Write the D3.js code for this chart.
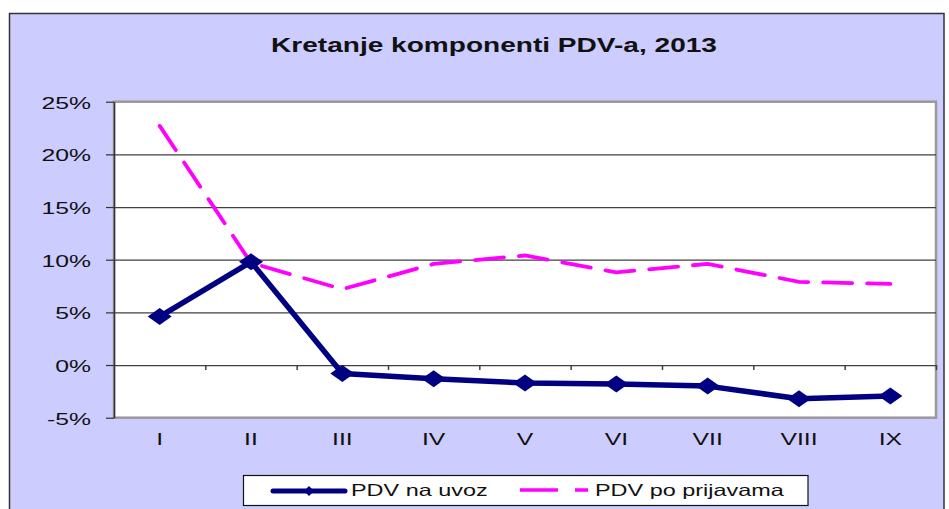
<!DOCTYPE html>
<html>
    <head>
        <meta charset="UTF-8">
        <title>Kretanje komponenti PDV-a, 2013</title>
        <script src="https://d3js.org/d3.v7.min.js"></script>
        <style>
            body {
                margin:0;
                padding:0;
                background: #ffffff;
            }
            text {
                font-family: "Liberation Sans", Arial, sans-serif;
                fill: #111111;
            }
        </style>
    </head>
    <body>
        <div id="chart"></div>
        <script>
            // data (percent)
            var months = ["I", "II", "III", "IV", "V", "VI", "VII", "VIII", "IX"];
            var pdvUvoz = [4.6, 9.8, -0.8, -1.3, -1.7, -1.8, -2.0, -3.2, -2.95];
            var pdvPrijave = [22.7, 9.7, 7.2, 9.6, 10.4, 8.8, 9.6, 7.9, 7.7];
            var yTicks = [-5, 0, 5, 10, 15, 20, 25];
            var gridTicks = [0, 5, 10, 15, 20];
            var seriesNames = ["PDV na uvoz", "PDV po prijavama"];

            var svgWidth = 949;
            var svgHeight = 509;
            var plot = { left: 114, right: 936, top: 101.7, bottom: 417.7 };

            var svg = d3.select('#chart').append('svg')
                .attr('width', svgWidth)
                .attr('height', svgHeight)
                .style('display', 'block');

            // the original picture is stretched sideways, so the texts are too
            function stretch(sel, k) {
                sel.each(function() {
                    var t = d3.select(this);
                    var x0 = +t.attr('x') || 0;
                    t.attr('transform', `translate(${x0},0) scale(${k},1) translate(${-x0},0)`);
                });
            }

            // chart area background with border
            svg.append('rect')
                .attr('x', 9.5)
                .attr('y', 13.5)
                .attr('width', 934.5)
                .attr('height', 510)
                .style('fill', '#ccccff')
                .style('stroke', '#333333')
                .style('stroke-width', 1.5);

            // title
            var title = svg.append('text')
                .attr('x', 494)
                .attr('y', 51.7)
                .attr('text-anchor', 'middle')
                .style('font-size', '19.5px')
                .style('font-weight', 'bold')
                .text('Kretanje komponenti PDV-a, 2013');
            stretch(title, 1.44);

            // scales
            var x = d3.scaleBand().domain(months).range([plot.left, plot.right]);
            var xEdge = d3.scaleLinear().domain([0, months.length]).range([plot.left, plot.right]);
            var y = d3.scaleLinear().domain([-5, 25]).range([plot.bottom, plot.top]);

            // plot area
            svg.append('rect')
                .attr('x', plot.left)
                .attr('y', plot.top)
                .attr('width', plot.right - plot.left)
                .attr('height', plot.bottom - plot.top)
                .style('fill', '#ffffff')
                .style('stroke', '#9a9a9a')
                .style('stroke-width', 2.5);

            // gridlines
            var grid = svg.append('g')
                .attr('transform', `translate(${plot.left},0)`)
                .call(d3.axisLeft(y).tickValues(gridTicks).tickSize(-(plot.right - plot.left)).tickFormat(''));
            grid.select('.domain').remove();
            grid.selectAll('.tick line')
                .style('stroke', '#404040')
                .style('stroke-width', 1.2);

            // category ticks on the 0% line
            var xTickAxis = svg.append('g')
                .attr('transform', `translate(0,${y(0)})`)
                .call(d3.axisBottom(xEdge).tickValues(d3.range(1, months.length + 1)).tickSize(5).tickFormat(''));
            xTickAxis.select('.domain').remove();
            xTickAxis.selectAll('.tick line')
                .style('stroke', '#404040')
                .style('stroke-width', 1.5);

            // y axis
            var yAxis = svg.append('g')
                .attr('transform', `translate(${plot.left},0)`)
                .call(d3.axisLeft(y).tickValues(yTicks).tickSize(8).tickSizeOuter(0).tickPadding(15)
                    .tickFormat(d => d + '%'));
            yAxis.select('.domain')
                .style('stroke', '#333333')
                .style('stroke-width', 1.5);
            yAxis.selectAll('.tick line')
                .style('stroke', '#333333')
                .style('stroke-width', 1.2);
            yAxis.selectAll('.tick text')
                .attr('dy', '0.4em')
                .style('font-size', '16.5px')
                .style('fill', '#111111');
            stretch(yAxis.selectAll('.tick text'), 1.5);

            // x labels below plot
            var xAxis = svg.append('g')
                .attr('transform', `translate(0,${plot.bottom})`)
                .call(d3.axisBottom(x).tickSize(0).tickPadding(16));
            xAxis.select('.domain').remove();
            xAxis.selectAll('.tick text')
                .style('font-size', '16.5px')
                .style('fill', '#111111');
            stretch(xAxis.selectAll('.tick text'), 1.5);

            var cx = (d, i) => x(months[i]) + x.bandwidth() / 2;

            // pdv po prijavama, dashed magenta
            var linePrijave = d3.line()
                .x(cx)
                .y(d => y(d));
            svg.append('path')
                .datum(pdvPrijave)
                .attr('d', linePrijave)
                .style('fill', 'none')
                .style('stroke', '#ff00ff')
                .style('stroke-width', 3.8)
                .style('stroke-linecap', 'round')
                .style('stroke-dasharray', '29,15');

            // pdv na uvoz, navy with diamonds
            var lineUvoz = d3.line()
                .x(cx)
                .y(d => y(d));
            svg.append('path')
                .datum(pdvUvoz)
                .attr('d', lineUvoz)
                .style('fill', 'none')
                .style('stroke', '#000080')
                .style('stroke-width', 5.5)
                .style('stroke-linejoin', 'round');

            function diamond(w, h) {
                return `M0,${-h}L${w},0L0,${h}L${-w},0Z`;
            }

            svg.append('g').selectAll('path')
                .data(pdvUvoz)
                .join('path')
                .attr('transform', (d, i) => `translate(${cx(d, i)},${y(d)})`)
                .attr('d', diamond(12, 8.5))
                .style('fill', '#000080');

            // legend
            var legend = svg.append('g');
            legend.append('rect')
                .attr('x', 243.5)
                .attr('y', 475.5)
                .attr('width', 564.5)
                .attr('height', 30)
                .style('fill', '#ffffff')
                .style('stroke', '#111111')
                .style('stroke-width', 1.2);
            legend.append('line')
                .attr('x1', 273).attr('x2', 345)
                .attr('y1', 491).attr('y2', 491)
                .style('stroke', '#000080')
                .style('stroke-width', 5)
                .style('stroke-linecap', 'round');
            legend.append('path')
                .attr('transform', 'translate(309,491)')
                .attr('d', diamond(5, 5))
                .style('fill', '#000080');
            legend.append('line')
                .attr('x1', 520).attr('x2', 588)
                .attr('y1', 490).attr('y2', 490)
                .style('stroke', '#ff00ff')
                .style('stroke-width', 3.5)
                .style('stroke-dasharray', '38,17');
            var legendText = legend.selectAll('text')
                .data(seriesNames)
                .join('text')
                .attr('x', (d, i) => i == 0 ? 351 : 595)
                .attr('y', 495.7)
                .style('font-size', '16.5px')
                .text(d => d);
            stretch(legendText, 1.42);
        </script>
    </body>
</html>
